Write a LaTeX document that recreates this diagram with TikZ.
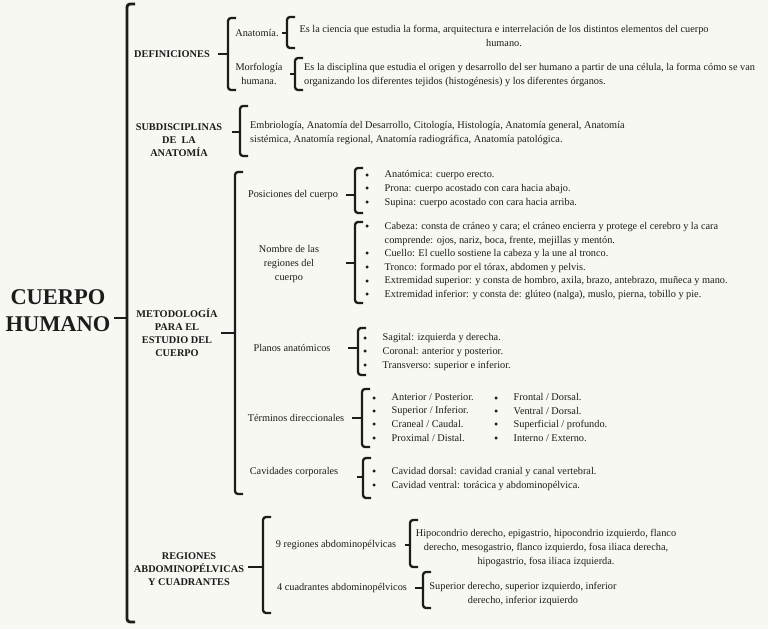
\documentclass[tikz,border=0pt]{standalone}
\usepackage{fontspec}
\setmainfont{Liberation Serif}
\usepackage{xcolor}
\usepackage{tikz}
\usetikzlibrary{calc}

\definecolor{paper}{RGB}{247,248,242}
\definecolor{ink}{RGB}{28,28,28}

\tikzset{
    txt/.style={font=\fontsize{10.3}{13.6}\selectfont, text=ink, inner sep=0pt, align=left},
    ctxt/.style={txt, align=center},
    head/.style={font=\fontsize{10.3}{13}\selectfont\bfseries, text=ink, inner sep=0pt, align=center},
    brk/.style={draw=ink, line width=2.3pt, rounded corners=3pt}
}

% brace: x, top, bottom, middle, tick length
\newcommand{\llave}[5]{%
    \draw[brk] (#1+8,#2) -- (#1,#2) -- (#1,#3) -- (#1+8,#3);
    \draw[brk, rounded corners=0pt] (#1,#4) -- (#1-#5,#4);
}
\newcommand{\itm}{\makebox[19.5pt][l]{\raisebox{-1.2pt}{\fontsize{12}{12}\selectfont\textbullet}}}

\begin{document}
\begin{tikzpicture}[x=1pt, y=-1pt]

    \fill[paper] (0,0) rectangle (768,629);
    \useasboundingbox (0,0) rectangle (768,629);

    % main brace
    \node[head, font=\fontsize{22.5}{27}\selectfont\bfseries] (cuerpo) at (58,311) {CUERPO\\HUMANO};
    \begin{scope}[brk/.append style={line width=2.8pt}]
        \llave{127}{4}{622}{318}{13}
    \end{scope}

    % definiciones
    \node[head] (def) at (172,54) {DEFINICIONES};
    \llave{228}{18}{90}{54}{10}
    \node[ctxt] (anat) at (257,33) {Anatomía.};
    \llave{287}{17}{48}{33}{5}
    \node[ctxt] (anatdef) at (504,36) {Es la ciencia que estudia la forma, arquitectura e interrelación de los distintos elementos del cuerpo\\humano.};
    \node[ctxt] (morf) at (259,74) {Morfología\\ humana.};
    \llave{295}{58}{90}{74}{5}
    \node[txt, anchor=west] (morfdef) at (304,75) {Es la disciplina que estudia el origen y desarrollo del ser humano a partir de una célula, la forma cómo se van\\organizando los diferentes tejidos (histogénesis) y los diferentes órganos.};

    % subdisciplinas
    \node[head] (sub) at (179,140) {SUBDISCIPLINAS\\DE\ \ LA\\ANATOMÍA};
    \llave{240}{106}{156}{132}{8}
    \node[txt, anchor=west] (subdef) at (250,133) {Embriología, Anatomía del Desarrollo, Citología, Histología, Anatomía general, Anatomía\\sistémica, Anatomía regional, Anatomía radiográfica, Anatomía patológica.};

    % metodologia
    \node[head] (met) at (177,333) {METODOLOGÍA\\PARA EL\\ESTUDIO DEL\\CUERPO};
    \llave{235}{172}{494}{333}{14}

    \node[ctxt] (pos) at (293,195) {Posiciones del cuerpo};
    \llave{355}{168}{213}{195}{9}
    \node[txt, anchor=west] (poslist) at (365,189) {\itm Anatómica: cuerpo erecto.\\\itm Prona: cuerpo acostado con cara hacia abajo.\\\itm Supina: cuerpo acostado con cara hacia arriba.};

    \node[ctxt] (nom) at (289,264) {Nombre de las\\regiones del\\cuerpo};
    \llave{355}{222}{303}{263}{9}
    \node[txt, anchor=west] (nomlist) at (365,261) {\itm Cabeza: consta de cráneo y cara; el cráneo encierra y protege el cerebro y la cara\\\hspace*{19.5pt}comprende: ojos, nariz, boca, frente, mejillas y mentón.\\\itm Cuello: El cuello sostiene la cabeza y la une al tronco.\\\itm Tronco: formado por el tórax, abdomen y pelvis.\\\itm Extremidad superior: y consta de hombro, axila, brazo, antebrazo, muñeca y mano.\\\itm Extremidad inferior: y consta de: glúteo (nalga), muslo, pierna, tobillo y pie.};

    \node[ctxt] (pla) at (292,348) {Planos anatómicos};
    \llave{358}{328}{375}{348}{10}
    \node[txt, anchor=west] (plalist) at (363,352) {\itm Sagital: izquierda y derecha.\\\itm Coronal: anterior y posterior.\\\itm Transverso: superior e inferior.};

    \node[ctxt] (ter) at (296,418) {Términos direccionales};
    \llave{362}{389}{447}{418}{10}
    \foreach \t [count=\i] in {Anterior / Posterior., Superior / Inferior., Craneal / Caudal., Proximal / Distal.}
        \node[txt, anchor=west] (ta\i) at (372,398+13.4*\i-13.4) {\itm \t};
    \foreach \t [count=\i] in {Frontal / Dorsal., Ventral / Dorsal., Superficial / profundo., Interno / Externo.}
        \node[txt, anchor=west] (tb\i) at (494,398+13.4*\i-13.4) {\itm \t};

    \node[ctxt] (cav) at (294,472) {Cavidades corporales};
    \llave{363}{458}{498}{477}{6}
    \node[txt, anchor=west] (cavlist) at (372,479) {\itm Cavidad dorsal: cavidad cranial y canal vertebral.\\\itm Cavidad ventral: torácica y abdominopélvica.};

    % regiones
    \node[head] (reg) at (189,569) {REGIONES\\ABDOMINOPÉLVICAS\\Y CUADRANTES};
    \llave{263}{517}{613}{567}{15}
    \node[ctxt] (nueve) at (336,545) {9 regiones abdominopélvicas};
    \llave{410}{520}{567}{545}{5}
    \node[ctxt] (nuevedef) at (546,548) {Hipocondrio derecho, epigastrio, hipocondrio izquierdo, flanco\\derecho, mesogastrio, flanco izquierdo, fosa iliaca derecha,\\hipogastrio, fosa iliaca izquierda.};
    \node[ctxt] (cuatro) at (342,588) {4 cuadrantes abdominopélvicos};
    \llave{423}{572}{608}{588}{8}
    \node[ctxt] (cuatrodef) at (523,594) {Superior derecho, superior izquierdo, inferior\\derecho, inferior izquierdo};

\end{tikzpicture}
\end{document}
